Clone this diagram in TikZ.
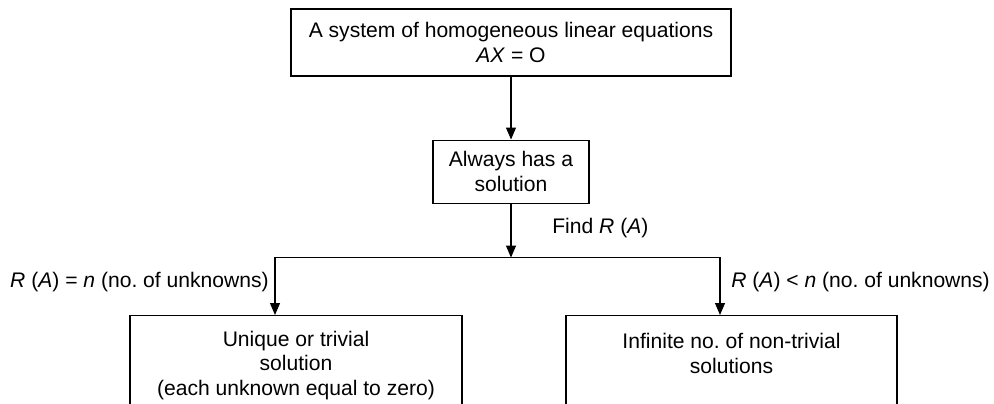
\documentclass[tikz,border=0pt]{standalone}
\usepackage{fontspec}
\setmainfont{Liberation Sans}
\frenchspacing
\usetikzlibrary{arrows.meta,positioning}

\begin{document}
\begin{tikzpicture}[every node/.style={font=\fontsize{12}{14.2}\selectfont}, box/.style={draw, line width=0.6pt, align=center, inner sep=2pt}, lbl/.style={inner sep=0pt}, arrow/.style={-{Triangle[length=2.4mm,width=2mm]}, line width=0.6pt}]
\useasboundingbox (0,0) rectangle (19.88,-8.08);
\node[box, minimum width=8.8cm, minimum height=1.34cm] (sys) at (10.22,-0.85) {A system of homogeneous linear equations\\\textit{AX} = O};
\node[box, below=1.26cm of sys, minimum width=3.12cm, minimum height=1.26cm] (sol) {Always has a\\solution};
\coordinate[below=1.08cm of sol] (fork);
\node[box, anchor=north, minimum width=6.64cm, minimum height=2cm] (uniq) at (5.92,-6.3) {Unique or trivial\\solution\\(each unknown equal to zero)};
\node[box, anchor=north, minimum width=6.62cm, minimum height=2cm] (inf) at (14.63,-6.3) {Infinite no. of non-trivial\\solutions\\\mbox{}};
\draw[arrow] (sys) -- (sol); \draw[arrow] (sol) -- (fork);
\draw[arrow] (fork) -| ([xshift=-0.42cm]uniq.north); \draw[arrow] (fork) -| ([xshift=-0.23cm]inf.north);
\node[lbl, anchor=west] (find) at (11.04,-4.56) {Find \textit{R} (\textit{A})};
\node[lbl, anchor=east] (eq) at (5.38,-5.64) {\textit{R} (\textit{A}) = \textit{n} (no. of unknowns)};
\node[lbl, anchor=west] (lt) at (14.62,-5.64) {\textit{R} (\textit{A}) < \textit{n} (no. of unknowns)};
\end{tikzpicture}
\end{document}
